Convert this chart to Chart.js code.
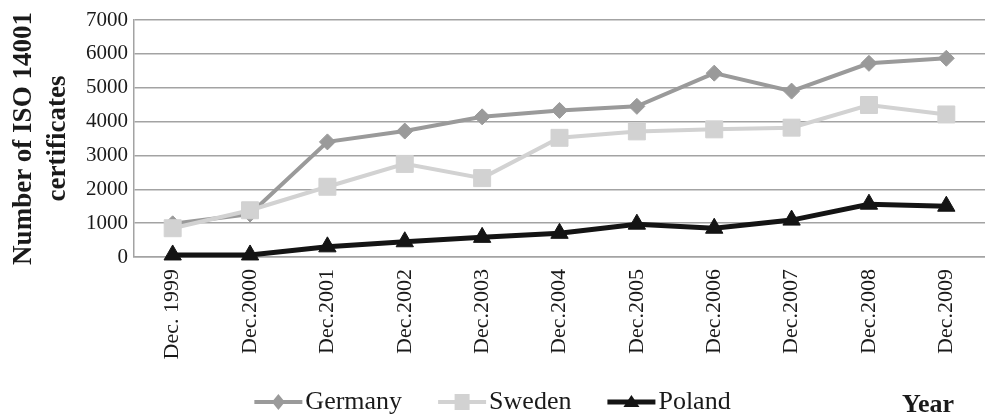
<!DOCTYPE html>
<html>
<head>
<meta charset="utf-8">
<script src="https://cdn.jsdelivr.net/npm/chart.js@4.4.1/dist/chart.umd.min.js"></script>
<style>
  html, body { margin: 0; padding: 0; background: #fff; }
  #wrap { width: 985px; height: 417px; position: relative; }
</style>
</head>
<body>
<div id="wrap"><canvas id="chart"></canvas></div>
<script>
const categories = ['Dec. 1999', 'Dec.2000', 'Dec.2001', 'Dec.2002', 'Dec.2003', 'Dec.2004',
    'Dec.2005', 'Dec.2006', 'Dec.2007', 'Dec.2008', 'Dec.2009'];
const germany = [980, 1270, 3400, 3720, 4140, 4330, 4450, 5430, 4900, 5720, 5870];
const sweden = [850, 1380, 2075, 2750, 2330, 3520, 3710, 3770, 3820, 4490, 4210];
const poland = [60, 60, 300, 450, 580, 700, 970, 850, 1090, 1560, 1500];
const seriesNames = ['Germany', 'Sweden', 'Poland'];
const yTitle = ['Number of ISO 14001', 'certificates'];
const xTitle = 'Year';
const yMax = 7000;
const yStep = 1000;

const SERIF = '"Liberation Serif", "Times New Roman", serif';
Chart.defaults.font.family = SERIF;
Chart.defaults.color = '#1a1a1a';

const GRID = '#a3a3a3';

function drawMarker(ctx, style, x, y, color) {
    ctx.fillStyle = color;
    ctx.beginPath();
    if (style === 'rectRot') {
        ctx.moveTo(x, y - 8);
        ctx.lineTo(x + 6.5, y);
        ctx.lineTo(x, y + 8);
        ctx.lineTo(x - 6.5, y);
    } else if (style === 'rect') {
        ctx.rect(x - 7.5, y - 8, 15, 16);
    } else {
        ctx.moveTo(x, y - 7);
        ctx.lineTo(x + 8, y + 5);
        ctx.lineTo(x - 8, y + 5);
    }
    ctx.closePath();
    ctx.fill();
}

// legend drawn as line + marker + label, plus the "Year" caption
const lineLegend = {
    id: 'lineLegend',
    afterDraw(chart) {
        const ctx = chart.ctx;
        const sets = chart.data.datasets;
        const lineW = 48, gapText = 3, gapItem = 36, y = 402;
        ctx.save();
        ctx.font = '26px ' + SERIF;
        const widths = sets.map(ds => lineW + gapText + ctx.measureText(ds.label).width);
        const total = widths.reduce((a, b) => a + b, 0) + gapItem * (sets.length - 1);
        let x = (chart.width - total) / 2;
        sets.forEach((ds, i) => {
            ctx.strokeStyle = ds.borderColor;
            ctx.lineWidth = ds.borderWidth;
            ctx.beginPath();
            ctx.moveTo(x, y);
            ctx.lineTo(x + lineW, y);
            ctx.stroke();
            drawMarker(ctx, ds.pointStyle, x + lineW / 2, y, ds.borderColor);
            ctx.fillStyle = '#1a1a1a';
            ctx.textBaseline = 'alphabetic';
            ctx.textAlign = 'left';
            ctx.fillText(ds.label, x + lineW + gapText, y + 7);
            x += widths[i] + gapItem;
        });
        ctx.font = 'bold 26px ' + SERIF;
        ctx.fillText(xTitle, 902, 412);
        ctx.restore();
    }
};

new Chart(document.getElementById('chart'), {
    type: 'line',
    data: {
        labels: categories,
        datasets: [
            {
                label: seriesNames[0],
                data: germany,
                borderColor: '#9a9a9a',
                backgroundColor: '#9a9a9a',
                borderWidth: 4,
                pointStyle: 'rectRot',
                pointRadius: 8,
                pointBorderWidth: 1,
                tension: 0,
                clip: false,
                order: 3
            },
            {
                label: seriesNames[1],
                data: sweden,
                borderColor: '#d2d2d2',
                backgroundColor: '#d2d2d2',
                borderWidth: 4,
                pointStyle: 'rect',
                pointRadius: 12,
                pointBorderWidth: 1,
                tension: 0,
                clip: false,
                order: 2
            },
            {
                label: seriesNames[2],
                data: poland,
                borderColor: '#141414',
                backgroundColor: '#141414',
                borderWidth: 5,
                pointStyle: 'triangle',
                pointRadius: 10,
                pointBorderWidth: 1,
                tension: 0,
                clip: false,
                order: 1
            }
        ]
    },
    options: {
        responsive: true,
        maintainAspectRatio: false,
        animation: false,
        layout: { autoPadding: false, padding: { top: 20, right: 0, bottom: 50, left: 0 } },
        plugins: {
            legend: { display: false },
            tooltip: { enabled: false }
        },
        scales: {
            x: {
                offset: true,
                grid: { display: false, drawTicks: false },
                border: { display: true, color: GRID, width: 1.5 },
                ticks: {
                    minRotation: 90,
                    maxRotation: 90,
                    autoSkip: false,
                    padding: 12,
                    font: { size: 22 }
                },
                afterFit: (scale) => {
                    scale.height = 110;
                    scale.paddingLeft = 0;
                    scale.paddingRight = 0;
                }
            },
            y: {
                min: 0,
                max: yMax,
                grid: { color: GRID, lineWidth: 1.5, drawTicks: false },
                border: { display: true, color: GRID, width: 1.5 },
                ticks: {
                    stepSize: yStep,
                    padding: 6,
                    font: { size: 21 },
                    callback: (value) => String(value)
                },
                title: {
                    display: true,
                    text: yTitle,
                    font: { size: 27, weight: 'bold', lineHeight: 1.25 },
                    padding: { top: 7, bottom: 0 }
                },
                afterFit: (scale) => {
                    scale.width = 134;
                    scale.paddingTop = 0;
                    scale.paddingBottom = 0;
                }
            }
        }
    },
    plugins: [lineLegend]
});
</script>
</body>
</html>
